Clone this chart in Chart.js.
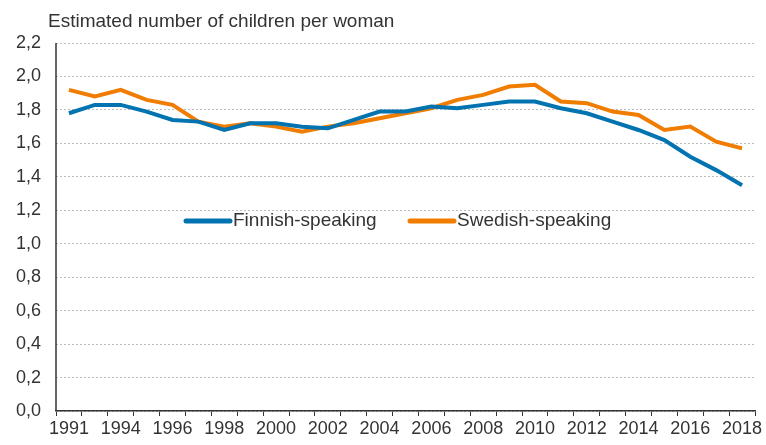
<!DOCTYPE html>
<html>
<head>
<meta charset="utf-8">
<script src="https://cdn.jsdelivr.net/npm/chart.js@4/dist/chart.umd.min.js"></script>
<style>
  html, body { margin: 0; padding: 0; background: #fff; }
  #wrap { width: 766px; height: 445px; position: relative; }
</style>
</head>
<body>
<div id="wrap"><canvas id="chart" width="766" height="445"></canvas></div>
<script>
// Data
const years = ['1991', '1993', '1994', '1995', '1996', '1997', '1998', '1999', '2000', '2001',
  '2002', '2003', '2004', '2005', '2006', '2007', '2008', '2009', '2010', '2011',
  '2012', '2013', '2014', '2015', '2016', '2017', '2018'];
const finnish = [1.78, 1.83, 1.83, 1.79, 1.74, 1.73, 1.68, 1.72, 1.72, 1.70,
  1.69, 1.74, 1.79, 1.79, 1.82, 1.81, 1.83, 1.85, 1.85, 1.81,
  1.78, 1.73, 1.68, 1.62, 1.52, 1.44, 1.35];
const swedish = [1.92, 1.88, 1.92, 1.86, 1.83, 1.73, 1.70, 1.72, 1.70, 1.67,
  1.70, 1.72, 1.75, 1.78, 1.81, 1.86, 1.89, 1.94, 1.95, 1.85,
  1.84, 1.79, 1.77, 1.68, 1.70, 1.61, 1.57];
const yTicks = [0, 0.2, 0.4, 0.6, 0.8, 1.0, 1.2, 1.4, 1.6, 1.8, 2.0, 2.2];
const titleText = 'Estimated number of children per woman';

const FONT = 'Arial, "Liberation Sans", sans-serif';
const TEXT = '#333333';

// solid y axis line (grid lines are dotted), title and in-plot legend
const decorations = {
  id: 'decorations',
  beforeDatasetsDraw(chart) {
    const { ctx, chartArea } = chart;
    ctx.save();
    ctx.strokeStyle = TEXT;
    ctx.lineWidth = 1.5;
    ctx.beginPath();
    ctx.moveTo(chartArea.left, chartArea.top);
    ctx.lineTo(chartArea.left, chartArea.bottom);
    ctx.stroke();
    ctx.restore();
  },
  afterDraw(chart) {
    const ctx = chart.ctx;
    ctx.save();
    ctx.fillStyle = TEXT;
    ctx.textBaseline = 'middle';
    ctx.textAlign = 'left';
    ctx.font = '19px ' + FONT;
    ctx.fillText(titleText, 48, 22);

    const items = [[186, chart.data.datasets[0]], [410, chart.data.datasets[1]]];
    items.forEach(([x, ds]) => {
      ctx.strokeStyle = ds.borderColor;
      ctx.lineWidth = 5;
      ctx.lineCap = 'round';
      ctx.beginPath();
      ctx.moveTo(x, 221);
      ctx.lineTo(x + 44, 221);
      ctx.stroke();
      ctx.fillStyle = TEXT;
      ctx.fillText(ds.label, x + 47, 221);
    });
    ctx.restore();
  }
};

new Chart(document.getElementById('chart'), {
  type: 'line',
  data: {
    labels: years,
    datasets: [
      {
        label: 'Finnish-speaking',
        data: finnish,
        borderColor: '#0073b0',
        borderWidth: 4,
        pointRadius: 0,
        tension: 0,
        fill: false
      },
      {
        label: 'Swedish-speaking',
        data: swedish,
        borderColor: '#f07d00',
        borderWidth: 4,
        pointRadius: 0,
        tension: 0,
        fill: false
      }
    ]
  },
  options: {
    responsive: false,
    animation: false,
    layout: { padding: { top: 43, right: 11, left: 0, bottom: 0 } },
    plugins: {
      legend: { display: false },
      tooltip: { enabled: false }
    },
    scales: {
      x: {
        type: 'category',
        offset: true,
        afterFit(scale) { scale.height = 34; },
        grid: {
          offset: true,
          drawOnChartArea: false,
          drawTicks: true,
          tickLength: 5,
          color: TEXT,
          lineWidth: 1
        },
        border: { color: TEXT, width: 1.5 },
        ticks: {
          autoSkip: false,
          maxRotation: 0,
          padding: 2,
          color: TEXT,
          font: { family: FONT, size: 18 },
          callback: (v, i) => (i % 2 === 0 ? years[i] : '')
        }
      },
      y: {
        min: 0,
        max: 2.2,
        afterFit(scale) { scale.width = 56; },
        afterBuildTicks(scale) { scale.ticks = yTicks.map(v => ({ value: v })); },
        grid: {
          drawTicks: false,
          color: '#bdbdbd',
          lineWidth: 1
        },
        border: { display: false, dash: [2, 2] },
        ticks: {
          padding: 15,
          color: TEXT,
          font: { family: FONT, size: 18 },
          callback: v => v.toFixed(1).replace('.', ',')
        }
      }
    }
  },
  plugins: [decorations]
});
</script>
</body>
</html>
